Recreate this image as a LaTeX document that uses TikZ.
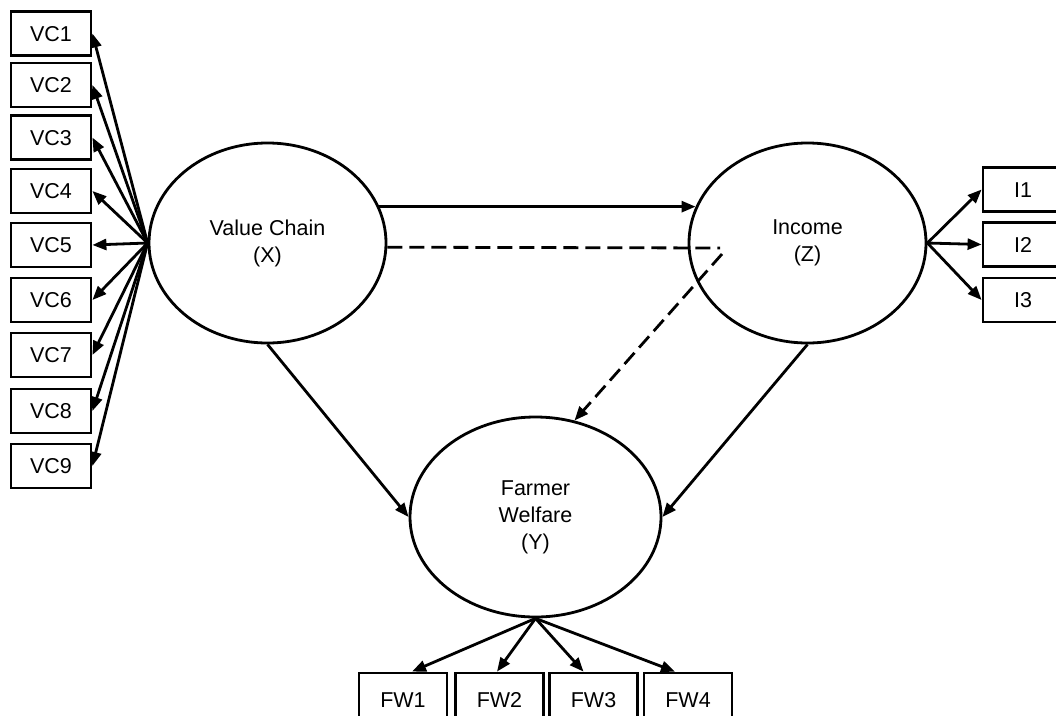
\documentclass[tikz,border=0pt]{standalone}
\usepackage{fontspec}
\setmainfont{Liberation Sans}
\usetikzlibrary{arrows.meta,shapes.geometric}
\tikzset{
  lat/.style={draw, ellipse, line width=2.8pt, inner sep=0pt, align=center,
    minimum width=237pt, minimum height=200pt, font=\fontsize{21.5}{27}\selectfont},
  ind/.style={draw, rectangle, line width=2.8pt, inner sep=0pt,
    minimum width=80pt, minimum height=44pt, text height=15.4pt, text depth=0pt,
    font=\fontsize{21.5}{27}\selectfont},
  fwbox/.style={ind, minimum width=88pt, minimum height=53pt},
  arr/.style={line width=2.8pt, -{Triangle[length=14pt,width=11pt]}},
  dsh/.style={line width=2.8pt, dash pattern=on 15pt off 7pt},
}
\begin{document}
\begin{tikzpicture}[x=1pt,y=-1pt]
\useasboundingbox (0,0) rectangle (1056,715);
\clip (0,0) rectangle (1056,715);
% latent variables
\node[lat] (X) at (267.5,243) {Value Chain\\(X)};
\node[lat] (Z) at (807.5,243) {Income\\(Z)};
\node[lat, minimum width=251pt] (Y) at (535.5,517) {Farmer\\Welfare\\(Y)};
% VC indicators
\node[ind] (VC1) at (51,33.5) {VC1};
\node[ind] (VC2) at (51,85) {VC2};
\node[ind] (VC3) at (51,137.5) {VC3};
\node[ind] (VC4) at (51,191) {VC4};
\node[ind] (VC5) at (51,245) {VC5};
\node[ind] (VC6) at (51,300) {VC6};
\node[ind] (VC7) at (51,355) {VC7};
\node[ind] (VC8) at (51,411) {VC8};
\node[ind] (VC9) at (51,466) {VC9};
% I indicators
\node[ind] (I1) at (1023,189.5) {I1};
\node[ind] (I2) at (1023,244.5) {I2};
\node[ind] (I3) at (1023,300) {I3};
% FW indicators
\node[fwbox] (FW1) at (403,699.5) {FW1};
\node[fwbox] (FW2) at (499.5,699.5) {FW2};
\node[fwbox] (FW3) at (593.5,699.5) {FW3};
\node[fwbox] (FW4) at (688,699.5) {FW4};
% loadings
\foreach \i in {1,...,9} \draw[arr] (X.west) -- (VC\i.east);
\foreach \i in {1,2,3} \draw[arr] (Z.east) -- (I\i.west);
\draw[arr] (Y.south) -- ([xshift=9pt]FW1.north);
\draw[arr] (Y.south) -- ([xshift=-2.5pt]FW2.north);
\draw[arr] (Y.south) -- ([xshift=-10pt]FW3.north);
\draw[arr] (Y.south) -- ([xshift=-13pt]FW4.north);
% structural paths
\draw[arr] (X.18) -- (Z.162);
\draw[arr] (X.south) -- (Y.west);
\draw[arr] (Z.south) -- (Y.east);
% mediation (dashed)
\coordinate (d1) at (720,248);
\coordinate (d2) at (722,254);
\draw[dsh] (X.-2.4) -- (d1);
\draw[dsh, -{Triangle[length=14pt,width=11pt]}] (d2) -- (Y.68);
\end{tikzpicture}
\end{document}
